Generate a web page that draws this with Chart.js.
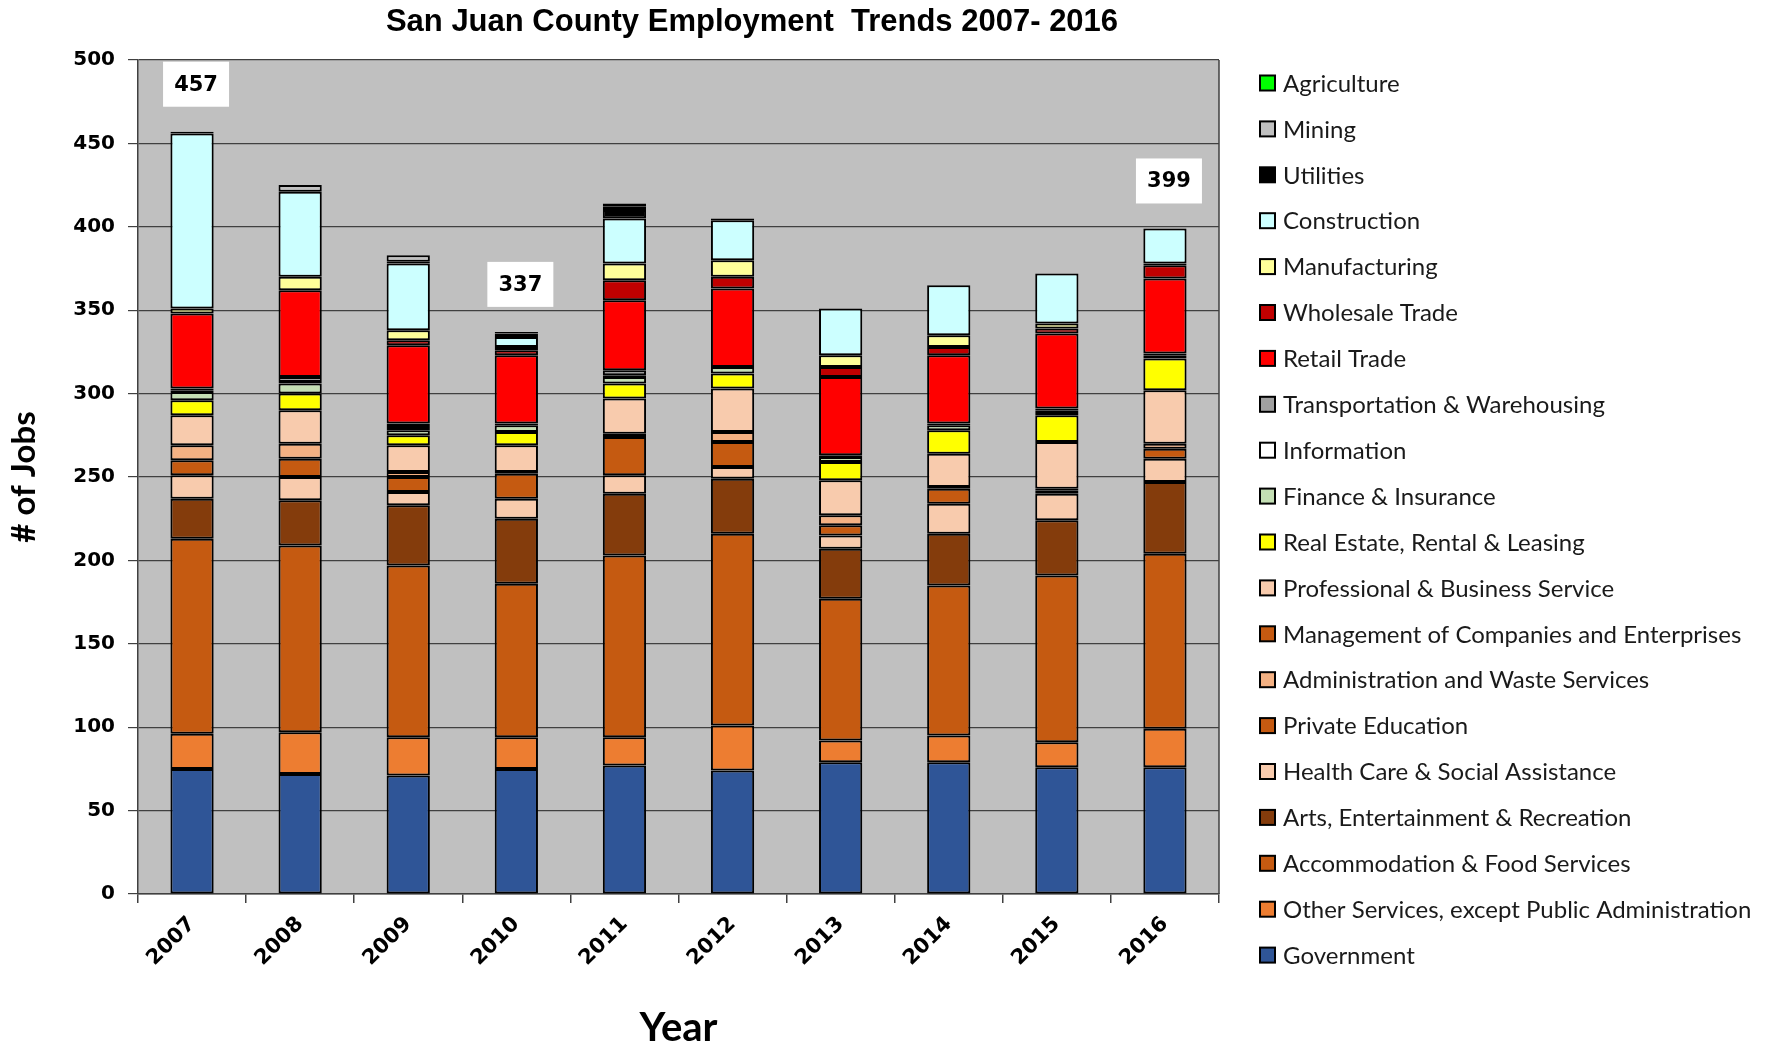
<!DOCTYPE html>
<html>
<head>
<meta charset="utf-8">
<script src="https://cdn.jsdelivr.net/npm/chart.js@4.4.1/dist/chart.umd.min.js"></script>
<style>
  html, body { margin: 0; padding: 0; background: #ffffff; }
  #wrap { width: 1785px; height: 1048px; position: relative; }
</style>
</head>
<body>
<div id="wrap"><canvas id="c" width="1785" height="1048"></canvas></div>
<script>
// ---- Data (stack order bottom -> top) ----
const years = ['2007','2008','2009','2010','2011','2012','2013','2014','2015','2016'];
const yTicks = [0, 50, 100, 150, 200, 250, 300, 350, 400, 450, 500];

const government       = [75, 72, 71, 75, 77, 74, 79, 79, 76, 76];
const otherServices    = [21, 25, 23, 19, 17, 27, 13, 16, 15, 23];
const accommodation    = [117, 112, 103, 92, 109, 115, 85, 90, 100, 105];
const arts             = [24, 27, 36, 39, 37, 33, 30, 31, 33, 43];
const healthCare       = [14, 14, 8, 12, 11, 7, 8, 18, 16, 14];
const privateEducation = [9, 11, 9, 15, 23, 15, 6, 9, 2, 6];
const administration   = [9, 9, 3, 1, 2, 6, 6, 1, 1, 3];
const management       = [0, 0, 0, 0, 0, 0, 0, 0, 0, 0];
const professional     = [18, 20, 16, 16, 21, 26, 21, 20, 28, 32];
const realEstate       = [9, 10, 6, 8, 9, 9, 11, 14, 16, 19];
const finance          = [5, 6, 3, 4, 4, 4, 3, 3, 2, 2];
const information      = [1, 1, 2, 1, 1, 0, 1, 1, 1, 1];
const transportation   = [1, 3, 2, 0, 3, 0, 0, 0, 1, 0];
const retail           = [45, 52, 47, 41, 42, 47, 47, 41, 45, 45];
const wholesale        = [0, 0, 3, 3, 12, 7, 6, 5, 3, 8];
const manufacturing    = [3, 8, 6, 2, 10, 10, 7, 7, 3, 1];
const construction     = [105, 51, 40, 6, 27, 24, 28, 30, 30, 21];
const utilities        = [1, 0, 1, 2, 5, 1, 0, 0, 0, 0];
const mining           = [0, 4, 4, 1, 2, 0, 0, 0, 0, 0];
const agriculture      = [0, 0, 0, 0, 2, 0, 0, 0, 0, 0];

const totalLabels = [457, null, null, 337, null, null, null, null, null, 399];

const seriesNames = [
  'Government', 'Other Services, except Public Administration', 'Accommodation & Food Services',
  'Arts, Entertainment & Recreation', 'Health Care & Social Assistance', 'Private Education',
  'Administration and Waste Services', 'Management of Companies and Enterprises',
  'Professional & Business Service', 'Real Estate, Rental & Leasing', 'Finance & Insurance',
  'Information', 'Transportation & Warehousing', 'Retail Trade', 'Wholesale Trade',
  'Manufacturing', 'Construction', 'Utilities', 'Mining', 'Agriculture'
];
const seriesValues = [
  government, otherServices, accommodation, arts, healthCare, privateEducation,
  administration, management, professional, realEstate, finance, information,
  transportation, retail, wholesale, manufacturing, construction, utilities, mining, agriculture
];
const seriesColors = [
  '#2F5597', '#ED7D31', '#C55A11', '#843C0C', '#F8CBAD', '#C55A11',
  '#F4B183', '#C55A11', '#F8CBAD', '#FFFF00', '#C4DFB4', '#FFFFFF',
  '#A0A0A0', '#FF0000', '#C00000', '#FFFF99', '#CCFFFF', '#000000', '#C0C0C0', '#00FF00'
];

const datasets = seriesNames.map((name, i) => ({
  label: name,
  data: seriesValues[i],
  backgroundColor: seriesColors[i],
  borderColor: '#000000',
  borderWidth: 2,
  borderSkipped: false,
  barPercentage: 0.4,
  categoryPercentage: 1.0,
  stack: 's'
}));

// ---- Plugins ----
const plotBg = {
  id: 'plotBg',
  beforeDraw(chart) {
    const {ctx, chartArea: a} = chart;
    ctx.save();
    ctx.fillStyle = '#C0C0C0';
    ctx.fillRect(a.left, a.top, a.right - a.left, a.bottom - a.top);
    ctx.restore();
  },
  beforeDatasetsDraw(chart) {
    const {ctx, chartArea: a} = chart;
    ctx.save();
    ctx.strokeStyle = '#404040';
    ctx.lineWidth = 1.5;
    ctx.beginPath();
    ctx.moveTo(a.right, a.top);
    ctx.lineTo(a.right, a.bottom);
    ctx.stroke();
    ctx.restore();
  }
};

const customText = {
  id: 'customText',
  afterDraw(chart) {
    const {ctx, scales} = chart;
    ctx.save();
    // Title
    ctx.fillStyle = '#000';
    ctx.font = "bold 31px 'Liberation Sans Narrow', 'Liberation Sans', Arial, sans-serif";
    ctx.textAlign = 'center';
    ctx.textBaseline = 'middle';
    ctx.fillText('San Juan County Employment  Trends 2007- 2016', 752, 22);

    // Total labels
    ctx.font = "bold 21px 'DejaVu Sans', Verdana, sans-serif";
    totalLabels.forEach((v, i) => {
      if (v == null) return;
      const x = scales.x.getPixelForValue(i) + 4;
      const yTop = scales.y.getPixelForValue(v);
      const w = 66, h = 45;
      const bottom = yTop - 25;
      ctx.fillStyle = '#FFFFFF';
      ctx.fillRect(x - w / 2, bottom - h, w, h);
      ctx.fillStyle = '#000';
      ctx.textAlign = 'center';
      ctx.textBaseline = 'middle';
      ctx.fillText(String(v), x, bottom - h / 2 + 1);
    });

    // Legend (reverse order: top item = last dataset)
    const n = chart.data.datasets.length;
    const lx = 1260, ly0 = 83, step = 45.9, box = 15;
    ctx.font = "24px Lato, 'Open Sans', sans-serif";
    ctx.textAlign = 'left';
    ctx.textBaseline = 'middle';
    for (let k = 0; k < n; k++) {
      const ds = chart.data.datasets[n - 1 - k];
      const y = ly0 + k * step;
      ctx.fillStyle = ds.backgroundColor;
      ctx.fillRect(lx, y - box / 2, box, box);
      ctx.strokeStyle = '#000';
      ctx.lineWidth = 2;
      ctx.strokeRect(lx, y - box / 2, box, box);
      ctx.fillStyle = '#1a1a1a';
      ctx.fillText(ds.label, lx + 23, y + 1);
    }
    ctx.restore();
  }
};

new Chart(document.getElementById('c'), {
  type: 'bar',
  data: { labels: years, datasets },
  options: {
    responsive: false,
    animation: false,
    devicePixelRatio: 1,
    layout: { padding: { top: 60, right: 566, left: 0, bottom: 0 } },
    plugins: {
      legend: { display: false },
      title: { display: false },
      tooltip: { enabled: false }
    },
    scales: {
      x: {
        stacked: true,
        offset: true,
        grid: { offset: true, drawOnChartArea: false, drawTicks: true, tickLength: 9, color: '#404040', lineWidth: 1.5 },
        border: { display: true, color: '#404040', width: 1.5 },
        ticks: {
          color: '#000',
          font: { family: "'DejaVu Sans', Verdana, sans-serif", weight: 'bold', size: 21 },
          maxRotation: 45, minRotation: 45, padding: 9
        },
        title: {
          display: true, text: 'Year', color: '#000',
          font: { family: "Lato, 'Open Sans', sans-serif", weight: 'bold', size: 40, lineHeight: 1 },
          padding: { top: 0, bottom: 0 }
        },
        afterFit(scale) { scale.height = 154; }
      },
      y: {
        stacked: true,
        min: 0, max: 500,
        afterBuildTicks(scale) { scale.ticks = yTicks.map(v => ({ value: v })); },
        grid: { color: '#404040', lineWidth: 1.2, tickLength: 10, drawTicks: true },
        border: { display: true, color: '#404040', width: 1.5 },
        ticks: {
          color: '#000',
          font: { family: "'DejaVu Sans', Verdana, sans-serif", weight: 'bold', size: 20 },
          padding: 13
        },
        title: {
          display: true, text: '# of Jobs', color: '#000',
          font: { family: "Lato, 'Open Sans', sans-serif", weight: 'bold', size: 33 },
          padding: { top: 5, bottom: 0 }
        },
        afterFit(scale) { scale.width = 138; }
      }
    }
  },
  plugins: [plotBg, customText]
});
</script>
</body>
</html>
